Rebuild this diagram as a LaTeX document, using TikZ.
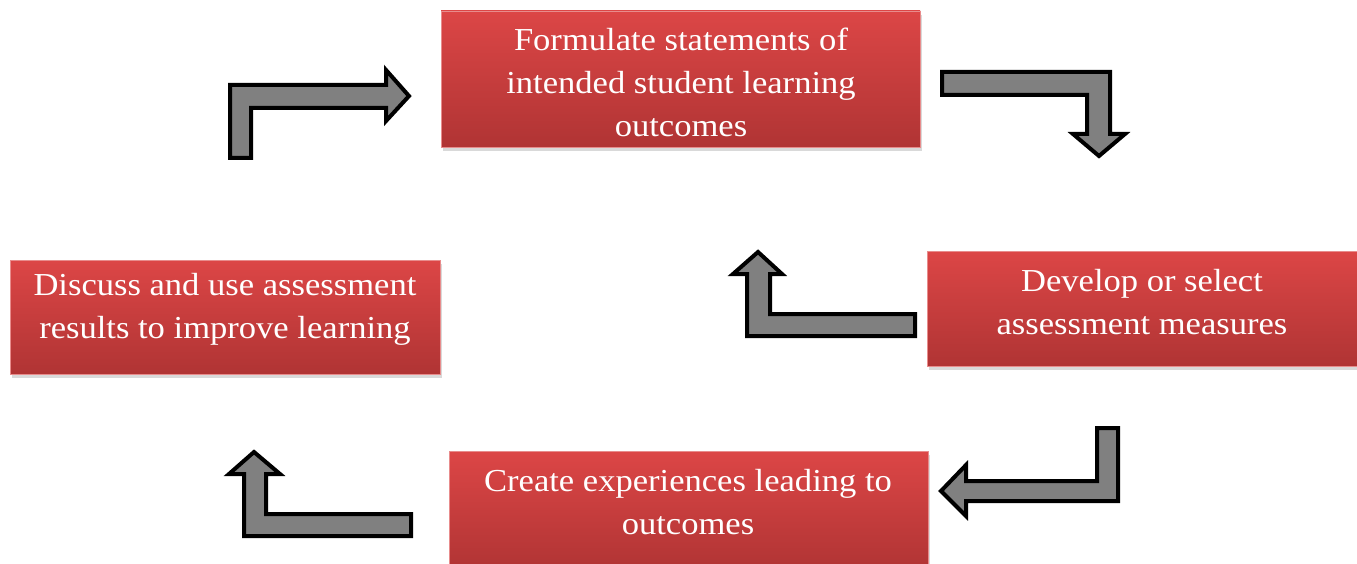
\documentclass[tikz,border=0pt]{standalone}
\usepackage{fontspec}
\setmainfont[FakeStretch=1.08]{Liberation Serif}
\usetikzlibrary{shadows}
\definecolor{boxtop}{RGB}{220,70,70}
\definecolor{boxbot}{RGB}{176,52,52}
\definecolor{boxedge}{RGB}{232,140,140}
\definecolor{arrowfill}{RGB}{128,128,128}
\tikzset{
  redbox/.style={rectangle, draw=boxedge, line width=0.8pt, top color=boxtop, bottom color=boxbot,
    drop shadow={opacity=0.3, shadow xshift=2pt, shadow yshift=-4pt}, inner sep=0pt},
  boxlabel/.style={text=white, align=center, font=\fontsize{32}{43}\selectfont},
  bentarrow/.style={draw=black, fill=arrowfill, line width=4pt, line join=miter}
}
\begin{document}
\begin{tikzpicture}[x=1pt,y=-1pt]
\useasboundingbox (0,0) rectangle (1357,564);
% boxes
\node[redbox, minimum width=479pt, minimum height=136pt] (b1) at (680.5,79) {};
\node[redbox, minimum width=432pt, minimum height=115pt] (b2) at (1143,308.5) {};
\node[redbox, minimum width=430pt, minimum height=114pt] (b3) at (225,317) {};
\node[redbox, minimum width=479pt, minimum height=120pt] (b4) at (688.5,511) {};
% labels
\node[boxlabel] (t1) at (681,82) {Formulate statements of\\intended student learning\\outcomes};
\node[boxlabel] (t2) at (1142,302) {Develop or select\\assessment measures};
\node[boxlabel] (t3) at (225,309) {Discuss and use assessment\\results to improve learning};
\node[boxlabel] (t4) at (688,502) {Create experiences leading to\\outcomes};
% bent arrows
\draw[bentarrow] (230,158) -- (230,85) -- (386,85) -- (386,70) -- (409,96) -- (386,121) -- (386,108) -- (251,108) -- (251,158) -- cycle;
\draw[bentarrow] (942,72) -- (1110,72) -- (1110,134) -- (1125,134) -- (1099,156) -- (1073,134) -- (1087,134) -- (1087,95) -- (942,95) -- cycle;
\draw[bentarrow] (915,314) -- (915,336) -- (747,336) -- (747,274) -- (733,274) -- (758,252) -- (782,274) -- (770,274) -- (770,314) -- cycle;
\draw[bentarrow] (1118,428) -- (1118,501) -- (966,501) -- (966,516) -- (941,491) -- (966,465) -- (966,481) -- (1097,481) -- (1097,428) -- cycle;
\draw[bentarrow] (411,514) -- (411,536) -- (244,536) -- (244,474) -- (229,474) -- (254,452) -- (280,474) -- (266,474) -- (266,514) -- cycle;
\end{tikzpicture}
\end{document}
